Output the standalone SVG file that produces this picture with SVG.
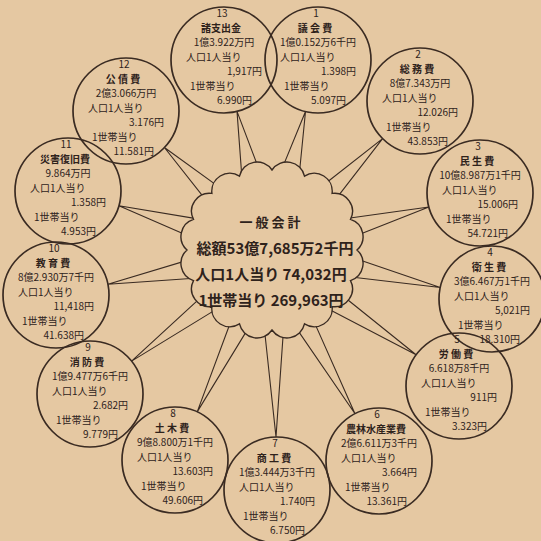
<svg xmlns="http://www.w3.org/2000/svg" width="541" height="541" viewBox="0 0 541 541">
<style>
text{font-family:"Noto Sans CJK JP","Noto Sans",sans-serif;fill:#2e221b}
.t{font-size:10px}
.n{font-size:10px;text-anchor:middle}
.h{font-size:10px;font-weight:bold;text-anchor:middle}
.m{text-anchor:middle}
.e{text-anchor:end}
.c{fill:none;stroke:#3a2b22;stroke-width:1.7}
.k{fill:none;stroke:#3a2b22;stroke-width:1.1}
.cl{fill:#e5c8a2;stroke:#3a2b22;stroke-width:1.4}
.ct{font-size:15px;font-weight:bold;text-anchor:middle}
</style>
<rect width="541" height="541" fill="#e5c8a2"/>
<g id="connectors">
<polyline class="k" points="261.4,175.8 237,111.4 242.2,181.2"/>
<polyline class="k" points="298.7,180 305.5,111.5 279.3,175.4"/>
<polyline class="k" points="332.9,202.8 382.6,138.6 318.7,188.8"/>
<polyline class="k" points="350.3,237.9 428.9,207 344.7,218.7"/>
<polyline class="k" points="346.8,276.5 440.3,287.5 351,256.9"/>
<polyline class="k" points="324.6,306.9 416.1,354.8 337.4,291.5"/>
<polyline class="k" points="292.5,322.6 355,413.7 310.9,314.6"/>
<polyline class="k" points="263.9,324.3 276,437 283.9,323.7"/>
<polyline class="k" points="233.3,314.8 197.2,411.9 251.7,322.6"/>
<polyline class="k" points="206.9,291.9 131.6,361.1 219.8,307.1"/>
<polyline class="k" points="193.1,258.6 107.9,284.2 197.7,278"/>
<polyline class="k" points="199.1,219.1 118.9,205.7 193.7,238.3"/>
<polyline class="k" points="223.3,190.1 164.4,147.5 209.5,204.7"/>
</g>
<g id="center">
<path class="cl" d="M272,170 A18,18 0 0 1 304.5,176.1 A18,18 0 0 1 332.1,193.4 A18,18 0 0 1 350.5,219.4 A18,18 0 0 1 357,250 A18,18 0 0 1 350.5,280.6 A18,18 0 0 1 332.1,306.6 A18,18 0 0 1 304.5,323.9 A18,18 0 0 1 272,330 A18,18 0 0 1 239.5,323.9 A18,18 0 0 1 211.9,306.6 A18,18 0 0 1 193.5,280.6 A18,18 0 0 1 187,250 A18,18 0 0 1 193.5,219.4 A18,18 0 0 1 211.9,193.4 A18,18 0 0 1 239.5,176.1 A18,18 0 0 1 272,170 Z"/>
<text class="ct" x="270" y="227" style="font-size:13px">一 般 会 計</text>
<text class="ct" x="275" y="254">総額53億7,685万2千円</text>
<text class="ct" x="271" y="280">人口1人当り 74,032円</text>
<text class="ct" x="271" y="306">1世帯当り 269,963円</text>
</g>
<g id="n1" transform="translate(318,60)">
<circle class="c" r="53"/>
<text class="n" x="-2" y="-43">1</text><text class="h" x="-3" y="-28.5">議 会 費</text>
<text class="t m" x="0" y="-14">1億0.152万6千円</text><text class="t" x="-38" y="0.5">人口1人当り</text>
<text class="t e" x="38" y="15">1.398円</text><text class="t" x="-34" y="29.5">1世帯当り</text><text class="t e" x="28" y="44">5.097円</text>
</g>
<g id="n2" transform="translate(420,101)">
<circle class="c" r="53"/>
<text class="n" x="-2" y="-43">2</text><text class="h" x="-3" y="-28.5">総 務 費</text>
<text class="t m" x="0" y="-14">8億7.343万円</text><text class="t" x="-38" y="0.5">人口1人当り</text>
<text class="t e" x="38" y="15">12.026円</text><text class="t" x="-34" y="29.5">1世帯当り</text><text class="t e" x="28" y="44">43.853円</text>
</g>
<g id="n3" transform="translate(480,193)">
<circle class="c" r="53"/>
<text class="n" x="-2" y="-43">3</text><text class="h" x="-3" y="-28.5">民 生 費</text>
<text class="t m" x="0" y="-14">10億8.987万1千円</text><text class="t" x="-38" y="0.5">人口1人当り</text>
<text class="t e" x="38" y="15">15.006円</text><text class="t" x="-34" y="29.5">1世帯当り</text><text class="t e" x="28" y="44">54.721円</text>
</g>
<g id="n4" transform="translate(492,299)">
<circle class="c" r="53"/>
<text class="n" x="-2" y="-43">4</text><text class="h" x="-3" y="-28.5">衛 生 費</text>
<text class="t m" x="0" y="-14">3億6.467万1千円</text><text class="t" x="-38" y="0.5">人口1人当り</text>
<text class="t e" x="38" y="15">5,021円</text><text class="t" x="-34" y="29.5">1世帯当り</text><text class="t e" x="28" y="44">18.310円</text>
</g>
<g id="n5" transform="translate(459,386)">
<circle class="c" r="53"/>
<text class="n" x="-2" y="-43">5</text><text class="h" x="-3" y="-28.5">労 働 費</text>
<text class="t m" x="0" y="-14">6.618万8千円</text><text class="t" x="-38" y="0.5">人口1人当り</text>
<text class="t e" x="38" y="15">911円</text><text class="t" x="-34" y="29.5">1世帯当り</text><text class="t e" x="28" y="44">3.323円</text>
</g>
<g id="n6" transform="translate(379,461)">
<circle class="c" r="53"/>
<text class="n" x="-2" y="-43">6</text><text class="h" x="-3" y="-28.5">農林水産業費</text>
<text class="t m" x="0" y="-14">2億6.611万3千円</text><text class="t" x="-38" y="0.5">人口1人当り</text>
<text class="t e" x="38" y="15">3.664円</text><text class="t" x="-34" y="29.5">1世帯当り</text><text class="t e" x="28" y="44">13.361円</text>
</g>
<g id="n7" transform="translate(277,490)">
<circle class="c" r="53"/>
<text class="n" x="-2" y="-43">7</text><text class="h" x="-3" y="-28.5">商 工 費</text>
<text class="t m" x="0" y="-14">1億3.444万3千円</text><text class="t" x="-38" y="0.5">人口1人当り</text>
<text class="t e" x="38" y="15">1.740円</text><text class="t" x="-34" y="29.5">1世帯当り</text><text class="t e" x="28" y="44">6.750円</text>
</g>
<g id="n8" transform="translate(175,460)">
<circle class="c" r="53"/>
<text class="n" x="-2" y="-43">8</text><text class="h" x="-3" y="-28.5">土 木 費</text>
<text class="t m" x="0" y="-14">9億8.800万1千円</text><text class="t" x="-38" y="0.5">人口1人当り</text>
<text class="t e" x="38" y="15">13.603円</text><text class="t" x="-34" y="29.5">1世帯当り</text><text class="t e" x="28" y="44">49.606円</text>
</g>
<g id="n9" transform="translate(90,394)">
<circle class="c" r="53"/>
<text class="n" x="-2" y="-43">9</text><text class="h" x="-3" y="-28.5">消 防 費</text>
<text class="t m" x="0" y="-14">1億9.477万6千円</text><text class="t" x="-38" y="0.5">人口1人当り</text>
<text class="t e" x="38" y="15">2.682円</text><text class="t" x="-34" y="29.5">1世帯当り</text><text class="t e" x="28" y="44">9.779円</text>
</g>
<g id="n10" transform="translate(56,295)">
<circle class="c" r="53"/>
<text class="n" x="-2" y="-43">10</text><text class="h" x="-3" y="-28.5">教 育 費</text>
<text class="t m" x="0" y="-14">8億2.930万7千円</text><text class="t" x="-38" y="0.5">人口1人当り</text>
<text class="t e" x="38" y="15">11,418円</text><text class="t" x="-34" y="29.5">1世帯当り</text><text class="t e" x="28" y="44">41.638円</text>
</g>
<g id="n11" transform="translate(68,191)">
<circle class="c" r="53"/>
<text class="n" x="-2" y="-43">11</text><text class="h" x="-3" y="-28.5">災害復旧費</text>
<text class="t m" x="0" y="-14">9.864万円</text><text class="t" x="-38" y="0.5">人口1人当り</text>
<text class="t e" x="38" y="15">1.358円</text><text class="t" x="-34" y="29.5">1世帯当り</text><text class="t e" x="28" y="44">4.953円</text>
</g>
<g id="n12" transform="translate(126,111)">
<circle class="c" r="53"/>
<text class="n" x="-2" y="-43">12</text><text class="h" x="-3" y="-28.5">公 債 費</text>
<text class="t m" x="0" y="-14">2億3.066万円</text><text class="t" x="-38" y="0.5">人口1人当り</text>
<text class="t e" x="38" y="15">3.176円</text><text class="t" x="-34" y="29.5">1世帯当り</text><text class="t e" x="28" y="44">11.581円</text>
</g>
<g id="n13" transform="translate(224,60)">
<circle class="c" r="53"/>
<text class="n" x="-2" y="-43">13</text><text class="h" x="-3" y="-28.5">諸支出金</text>
<text class="t m" x="0" y="-14">1億3.922万円</text><text class="t" x="-38" y="0.5">人口1人当り</text>
<text class="t e" x="38" y="15">1,917円</text><text class="t" x="-34" y="29.5">1世帯当り</text><text class="t e" x="28" y="44">6.990円</text>
</g>
</svg>
